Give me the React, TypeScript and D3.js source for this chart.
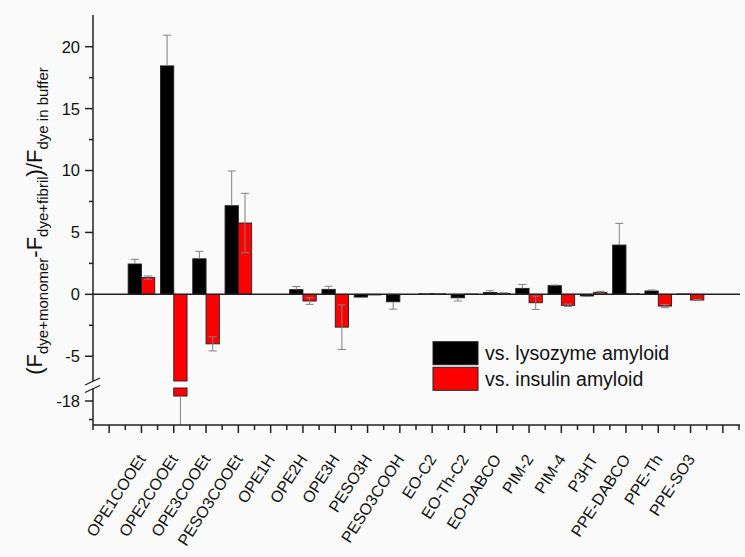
import React from "react";
import * as d3 from "d3";

// Dyes on the x axis (positions 1..18)
const categories = [
  "OPE1COOEt", "OPE2COOEt", "OPE3COOEt", "PESO3COOEt", "OPE1H", "OPE2H",
  "OPE3H", "PESO3H", "PESO3COOH", "EO-C2", "EO-Th-C2", "EO-DABCO",
  "PIM-2", "PIM-4", "P3HT", "PPE-DABCO", "PPE-Th", "PPE-SO3",
];

// Response vs. lysozyme amyloid
const lysozyme = [2.45, 18.45, 2.87, 7.16, 0, 0.38, 0.4, -0.22, -0.6, 0.05, -0.28, 0.15, 0.48, 0.7, -0.13, 3.98, 0.27, 0.03];
const lysozymeErr = [0.38, 2.48, 0.6, 2.8, 0, 0.25, 0.25, 0.04, 0.6, 0.02, 0.26, 0.14, 0.32, 0.05, 0.04, 1.75, 0.08, 0];

// Response vs. insulin amyloid
const insulin = [1.35, -17.6, -4.0, 5.76, 0, -0.54, -2.65, -0.05, 0, 0.05, 0.02, 0.08, -0.68, -0.89, 0.16, 0.05, -0.95, -0.46];
const insulinErr = [0.13, 2.5, 0.57, 2.4, 0, 0.27, 1.8, 0, 0, 0.02, 0, 0.05, 0.54, 0.1, 0.08, 0.02, 0.13, 0.05];

// Axis ticks
const yMajorUpper = [-5, 0, 5, 10, 15, 20];
const yMinorUpper = [-2.5, 2.5, 7.5, 12.5, 17.5];
const yMajorLower = [-18];
const yMinorLower = [-19.5];

const seriesNames = ["vs. lysozyme amyloid", "vs. insulin amyloid"];
const seriesColors = ["#000000", "#ff0000"];

const W = 745;
const H = 557;
const left = 93;
const right = 739;
const top = 15;
const bottom = 425;

const x = d3.scaleLinear().domain([-0.5, 19.5]).range([left, right]);
const sub = d3.scaleBand().domain(["0", "1"]).range([-13.3, 13.3]).padding(0);

// Broken y axis: upper and lower segments share the same unit size
const yUpper = d3.scaleLinear().domain([-7, 22.56]).range([381, top]);
const yLower = d3.scaleLinear().domain([-19.94, -16.95]).range([bottom, 388]);
const segments = [
  { s: yUpper, lo: -7, hi: 22.56 },
  { s: yLower, lo: -19.94, hi: -16.95 },
];

const segOf = (v: number) => segments.find((g) => v >= g.lo && v <= g.hi);

const font = "Arial, 'Liberation Sans', sans-serif";
const axisColor = "#222";
const errColor = "#808080";

function Bars({ values, errs, si }: { values: number[]; errs: number[]; si: number }) {
  const out: React.ReactNode[] = [];
  values.forEach((v, i) => {
    const cx = x(i + 1);
    const x0 = cx + (sub(String(si)) as number);
    const bw = sub.bandwidth();
    const a = Math.min(0, v);
    const b = Math.max(0, v);
    segments.forEach((g, gi) => {
      const lo = Math.max(a, g.lo);
      const hi = Math.min(b, g.hi);
      if (hi > lo) {
        out.push(
          <rect key={`b${i}-${gi}`} x={x0} y={g.s(hi)} width={bw} height={g.s(lo) - g.s(hi)}
            fill={seriesColors[si]} stroke="#222" strokeWidth={0.9} />
        );
      }
    });
    const e = errs[i];
    if (e > 0 && v !== 0) {
      const ex = x0 + bw / 2;
      const dir = v > 0 ? 1 : -1;
      const ends = [v + dir * e];
      // the red series also shows the half that runs back into the bar
      if (si === 1) ends.push(v - dir * e);
      const g = segOf(v);
      ends.forEach((end, k) => {
        if (!g) return;
        const inner = k === 1;
        if (inner && !(end >= g.lo && end <= g.hi)) return;
        const segLo = Math.max(Math.min(v, end), g.lo);
        const segHi = Math.min(Math.max(v, end), g.hi);
        out.push(
          <line key={`e${i}-${k}`} x1={ex} x2={ex} y1={g.s(segLo)} y2={g.s(segHi)}
            stroke={errColor} strokeWidth={1} />
        );
        if (end >= g.lo && end <= g.hi) {
          out.push(
            <line key={`c${i}-${k}`} x1={ex - 4} x2={ex + 4} y1={g.s(end)} y2={g.s(end)}
              stroke={errColor} strokeWidth={1} />
          );
        }
      });
    }
  });
  return <g>{out}</g>;
}

export default function App() {
  const xMajor = d3.range(0, 20);
  const xMinor = d3.range(-0.5, 20, 1);
  return (
    <svg width={W} height={H} style={{ position: "absolute", left: 0, top: 0, background: "#fafafa" }}
      fontFamily={font}>
      <rect x={0} y={0} width={W} height={H} fill="#fafafa" />
      <defs>
        <clipPath id="plot">
          <rect x={left} y={top} width={right - left + 2} height={bottom - top} />
        </clipPath>
      </defs>

      <g clipPath="url(#plot)">
        <Bars values={lysozyme} errs={lysozymeErr} si={0} />
        <Bars values={insulin} errs={insulinErr} si={1} />
      </g>

      {/* zero line */}
      <line x1={left} x2={right + 1} y1={yUpper(0)} y2={yUpper(0)} stroke={axisColor} strokeWidth={1.5} />

      {/* y axis with break */}
      <line x1={left} x2={left} y1={top} y2={381} stroke={axisColor} strokeWidth={1.5} />
      <line x1={left} x2={left} y1={388} y2={bottom} stroke={axisColor} strokeWidth={1.5} />
      <line x1={85} y1={385} x2={100} y2={378} stroke={axisColor} strokeWidth={1.3} />
      <line x1={85} y1={392.5} x2={100} y2={385.5} stroke={axisColor} strokeWidth={1.3} />

      {yMajorUpper.map((t) => (
        <g key={`yu${t}`}>
          <line x1={left - 8} x2={left} y1={yUpper(t)} y2={yUpper(t)} stroke={axisColor} strokeWidth={1.5} />
          <text x={80} y={yUpper(t)} dy="0.36em" textAnchor="end" fontSize={16.5} fill="#111">{t}</text>
        </g>
      ))}
      {yMinorUpper.map((t) => (
        <line key={`yum${t}`} x1={left - 4} x2={left} y1={yUpper(t)} y2={yUpper(t)} stroke={axisColor} strokeWidth={1.5} />
      ))}
      {yMajorLower.map((t) => (
        <g key={`yl${t}`}>
          <line x1={left - 8} x2={left} y1={yLower(t)} y2={yLower(t)} stroke={axisColor} strokeWidth={1.5} />
          <text x={80} y={yLower(t)} dy="0.36em" textAnchor="end" fontSize={16.5} fill="#111">{t}</text>
        </g>
      ))}
      {yMinorLower.map((t) => (
        <line key={`ylm${t}`} x1={left - 4} x2={left} y1={yLower(t)} y2={yLower(t)} stroke={axisColor} strokeWidth={1.5} />
      ))}

      {/* x axis */}
      <line x1={left} x2={right + 1} y1={bottom} y2={bottom} stroke={axisColor} strokeWidth={1.5} />
      {xMajor.map((t) => (
        <line key={`xM${t}`} x1={x(t)} x2={x(t)} y1={bottom} y2={bottom + 8} stroke={axisColor} strokeWidth={1.5} />
      ))}
      {xMinor.map((t) => (
        <line key={`xm${t}`} x1={x(t)} x2={x(t)} y1={bottom} y2={bottom + 5} stroke={axisColor} strokeWidth={1.5} />
      ))}
      {categories.map((c, i) => (
        <text key={c} transform={`translate(${x(i + 1) + 5},${459}) rotate(-57)`} textAnchor="end"
          fontSize={16} fill="#111">{c}</text>
      ))}

      {/* y axis title */}
      <text transform={`translate(42,221) rotate(-90)`} textAnchor="middle" fontSize={22} fill="#111">
        <tspan>(F</tspan>
        <tspan fontSize={15} dy={6}>dye+monomer</tspan>
        <tspan dy={-6}>-F</tspan>
        <tspan fontSize={15} dy={6}>dye+fibril</tspan>
        <tspan dy={-6}>)/F</tspan>
        <tspan fontSize={15} dy={6}>dye in buffer</tspan>
      </text>

      {/* legend */}
      {seriesNames.map((n, i) => (
        <g key={n} transform={`translate(433,${341.7 + i * 25.6})`}>
          <rect x={0} y={0} width={45} height={23} fill={seriesColors[i]} stroke="#222" strokeWidth={1} />
          <text x={52} y={18.3} fontSize={19.5} fill="#111">{n}</text>
        </g>
      ))}
    </svg>
  );
}
